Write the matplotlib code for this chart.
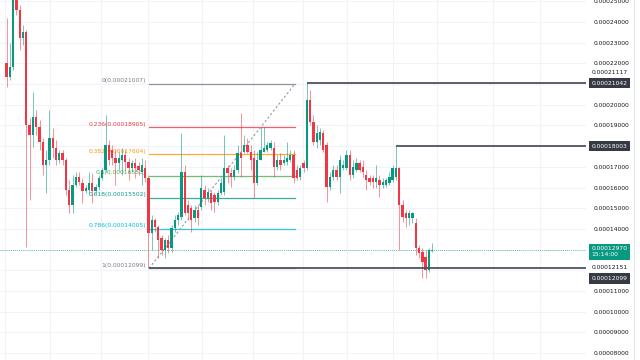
import numpy as np
import matplotlib.pyplot as plt
from matplotlib.lines import Line2D
import matplotlib.transforms as mtransforms

# ============== Data (prices in units of 1e-5) ===================
opens = [22.02, 21.34, 21.82, 25.30, 24.58, 23.22, 23.51, 19.02, 18.54, 19.41,
         18.93, 18.20, 17.09, 17.33, 18.39, 17.91, 17.33, 17.67, 17.33, 15.88,
         15.16, 16.12, 16.51, 16.22, 15.83, 15.88, 16.22, 15.83, 16.03, 16.46,
         16.85, 18.06, 17.81, 17.43, 17.19, 17.33, 17.57, 17.24, 16.95, 17.19,
         17.04, 16.75, 16.95, 16.46, 13.81, 14.43, 14.10, 13.56, 12.99, 13.47,
         13.08, 14.05, 14.43, 14.58, 16.75, 15.16, 15.01, 14.53, 14.92, 15.06,
         15.88, 15.50, 15.74, 15.64, 15.30, 15.74, 15.79, 16.95, 16.70, 16.51,
         16.85, 17.67, 17.72, 18.06, 17.72, 17.43, 16.22, 17.33, 17.72, 17.81,
         17.91, 17.91, 16.99, 17.33, 17.19, 17.24, 17.33, 17.57, 16.85, 16.51,
         17.19, 16.95, 20.23, 19.17, 18.20, 18.30, 18.64, 18.06, 16.03, 16.51,
         16.85, 16.51, 16.95, 16.95, 17.57, 16.61, 16.85, 17.19, 16.99, 16.61,
         16.46, 16.46, 16.27, 16.37, 16.12, 16.12, 16.22, 16.37, 16.51, 16.95,
         15.16, 14.77, 14.53, 14.53, 14.29, 13.08, 12.89, 12.65, 12.02, 12.94]
highs = [24.19, 22.98, 25.54, 25.54, 24.82, 23.85, 23.61, 19.36, 20.62, 19.75,
         19.26, 18.39, 17.81, 19.75, 18.88, 18.30, 17.81, 17.81, 17.43, 16.37,
         16.61, 16.75, 16.75, 16.46, 16.12, 16.75, 16.70, 16.17, 16.61, 16.95,
         19.51, 18.30, 18.06, 17.81, 17.72, 17.91, 17.81, 17.43, 17.33, 17.43,
         17.24, 17.43, 17.33, 16.61, 14.67, 14.53, 14.19, 13.71, 13.56, 13.71,
         14.19, 14.67, 14.82, 18.64, 17.09, 15.40, 15.16, 15.16, 15.16, 16.61,
         16.12, 15.98, 15.88, 15.79, 15.88, 16.46, 18.54, 17.09, 16.95, 17.09,
         18.06, 19.60, 18.54, 18.39, 18.06, 17.81, 17.72, 18.93, 18.93, 18.20,
         18.30, 18.20, 17.57, 17.67, 17.57, 18.20, 17.81, 17.81, 17.09, 17.09,
         17.33, 21.042, 20.71, 19.51, 19.02, 18.88, 18.78, 18.20, 16.75, 17.09,
         17.09, 17.57, 17.33, 17.81, 17.81, 17.33, 17.43, 17.33, 17.33, 16.85,
         16.61, 16.61, 17.09, 16.61, 16.46, 16.46, 16.75, 17.09, 18.003, 16.99,
         15.40, 14.92, 14.92, 14.82, 14.53, 13.23, 13.08, 12.99, 13.08, 13.32]
lows = [20.86, 21.20, 21.68, 24.34, 22.64, 22.89, 13.13, 15.40, 17.96, 18.54,
        17.81, 16.61, 15.74, 17.09, 17.43, 17.09, 17.19, 17.09, 15.64, 14.77,
        14.77, 16.03, 16.12, 15.26, 15.74, 15.74, 15.26, 15.74, 15.88, 16.37,
        16.75, 17.09, 17.09, 16.12, 16.85, 16.61, 16.85, 16.37, 16.75, 16.46,
        16.61, 16.12, 16.27, 12.10, 12.99, 13.85, 12.60, 12.74, 12.60, 12.84,
        12.89, 13.85, 14.19, 14.43, 14.67, 14.43, 13.85, 14.34, 14.19, 14.92,
        15.16, 15.30, 14.92, 14.82, 15.16, 15.64, 15.64, 16.22, 16.03, 16.37,
        16.70, 16.51, 17.67, 17.67, 16.85, 15.50, 16.12, 17.33, 17.72, 17.72,
        17.81, 16.51, 16.85, 16.85, 17.09, 17.09, 17.24, 16.22, 16.37, 16.37,
        16.75, 16.85, 19.02, 18.06, 17.91, 18.06, 17.72, 15.30, 15.88, 16.37,
        16.37, 15.74, 16.85, 16.85, 16.37, 16.46, 16.75, 16.75, 16.51, 15.88,
        16.12, 15.98, 15.98, 15.55, 15.98, 16.03, 16.12, 16.27, 16.37, 12.99,
        14.34, 14.10, 14.19, 14.29, 12.74, 12.60, 11.63, 11.63, 11.92, 12.89]
closes = [21.34, 21.82, 25.16, 24.58, 23.22, 23.51, 19.02, 18.54, 19.41, 18.93,
          18.20, 17.09, 17.33, 18.39, 17.91, 17.33, 17.67, 17.33, 15.88, 15.16,
          16.12, 16.51, 16.27, 15.83, 15.98, 16.22, 15.83, 16.03, 16.46, 16.85,
          18.06, 17.33, 17.43, 17.19, 17.43, 17.57, 17.24, 16.95, 17.19, 16.95,
          16.85, 17.09, 16.46, 13.81, 14.43, 14.10, 13.47, 12.99, 13.47, 13.08,
          14.05, 14.43, 14.67, 16.75, 14.77, 14.77, 14.43, 14.92, 14.53, 15.98,
          15.50, 15.79, 15.26, 15.30, 15.74, 16.22, 16.95, 16.70, 16.51, 16.85,
          17.67, 17.43, 18.06, 17.72, 17.33, 16.22, 17.33, 17.81, 17.91, 18.06,
          18.15, 16.99, 17.33, 17.09, 17.33, 17.43, 17.57, 16.46, 16.46, 16.95,
          16.95, 20.23, 19.17, 18.20, 18.64, 18.68, 17.81, 16.03, 16.51, 16.85,
          16.51, 17.33, 17.09, 17.57, 16.61, 16.99, 17.19, 16.85, 16.75, 16.37,
          16.27, 16.27, 16.46, 16.12, 16.27, 16.37, 16.51, 16.95, 16.95, 15.16,
          14.58, 14.53, 14.77, 14.77, 13.08, 12.84, 12.41, 12.02, 12.99, 12.97]

scale = 1e-5
o = np.array(opens) * scale
h = np.array(highs) * scale
l = np.array(lows) * scale
c = np.array(closes) * scale
idx = np.arange(len(o))

# fibonacci retracement (anchors: candle index, price)
fib_start = (43.2, 0.00012099)
fib_end = (87.4, 0.00021007)
fib_levels = [0, 0.236, 0.382, 0.5, 0.618, 0.786, 1]
fib_colors = ["#787b86", "#f23645", "#ff9800", "#4caf50", "#089981", "#00bcd4", "#787b86"]

# horizontal rays (start index, price)
rays = [(91, 0.00021042), (118, 0.00018003), (43.2, 0.00012099)]
last_price = 0.00012970
countdown = "15:14:00"

# price scale
grid_prices = np.arange(8, 26) * scale
tick_prices = [25, 24, 23, 22, 20, 19, 17, 16, 15, 14, 11, 10, 9, 8]
time_grid = [-0.5, 13.2, 28.6, 42.9, 59.2, 74.7, 89.8, 103.2, 117.1, 130.5, 147.4, 161.7]

up_col = "#089981"
down_col = "#f23645"
ray_col = "#50535e"

# ============== Figure ===================
fig = plt.figure(figsize=(6.4, 3.6), dpi=100)
ax = fig.add_axes([0, 0, 586 / 640, 1])
ax.set_xlim(-1.97, 175.6)
ax.set_ylim(7.67e-5, 25.06e-5)
for s in ax.spines.values():
    s.set_visible(False)
ax.set_xticks([])

# grid
for gp in grid_prices:
    ax.axhline(gp, color="#f0f3fa", lw=0.8, zorder=0)
for gx in time_grid:
    ax.axvline(gx, color="#f0f3fa", lw=0.8, zorder=0)

# candles
colors = np.where(c >= o, up_col, down_col)
ax.vlines(idx, l, h, colors=colors, lw=0.7, alpha=0.55, zorder=3)
body_bottom = np.minimum(o, c)
body_h = np.maximum(np.abs(c - o), 0.03e-5)
ax.bar(idx, body_h, bottom=body_bottom, width=0.72, color=colors, lw=0, zorder=4)

# fib retracement
hi_p, lo_p = fib_end[1], fib_start[1]
for lvl, col in zip(fib_levels, fib_colors):
    p = hi_p - lvl * (hi_p - lo_p)
    ax.plot([fib_start[0], fib_end[0]], [p, p], color=col, lw=0.9, alpha=0.8, zorder=2)
    ax.annotate(f"{lvl:g}({p:.8f})", xy=(fib_start[0], p), xytext=(-2, 0.5),
                textcoords="offset points", ha="right", va="bottom",
                fontsize=4.3, color=col, zorder=1)
ax.plot([fib_start[0], fib_end[0]], [fib_start[1], fib_end[1]], color="#9598a1",
        lw=0.8, ls=(0, (2, 2)), zorder=2)

# rays
for rx, rp in rays:
    ax.plot([rx, 200], [rp, rp], color=ray_col, lw=1.3, zorder=5, solid_capstyle="butt")

# last price line
ax.axhline(last_price, color=up_col, lw=0.6, ls=(0, (1, 1.5)), alpha=0.8, zorder=2)

# ============== Price scale ===================
ax.yaxis.tick_right()
ax.set_yticks(np.array(tick_prices) * scale)
ax.set_yticklabels([f"{t * scale:.8f}" for t in tick_prices])
ax.tick_params(axis="y", length=0, pad=5.2, labelsize=4.3, labelcolor="#131722")

tr = mtransforms.blended_transform_factory(ax.transAxes, ax.transData)
box_labels = [(0.00021042, 0), (0.00018003, 0), (0.00012099, -10)]
for bp, off in box_labels:
    ax.annotate(f"{bp:.8f}", xy=(1, bp), xycoords=tr, xytext=(5.2, off),
                textcoords="offset pixels", ha="left", va="center", fontsize=4.3,
                color="white", annotation_clip=False,
                bbox=dict(boxstyle="square,pad=0.45", fc="#363a45", ec="none"))
for tp, off in [(0.00021117, 9), (0.00012151, 0)]:
    ax.annotate(f"{tp:.8f}", xy=(1, tp), xycoords=tr, xytext=(5.2, off),
                textcoords="offset pixels", ha="left", va="center", fontsize=4.3,
                color="#131722", annotation_clip=False)
ax.annotate(f"{last_price:.8f}\n{countdown}", xy=(1, last_price), xycoords=tr,
            xytext=(5.2, 4), textcoords="offset pixels", ha="left", va="top",
            fontsize=4.3, color="white", linespacing=1.3, annotation_clip=False,
            bbox=dict(boxstyle="square,pad=0.45", fc=up_col, ec="none"))

fig.add_artist(Line2D([634 / 640, 634 / 640], [0, 1], color="#e0e3eb", lw=0.8))

fig.savefig("out.png", dpi=100)
